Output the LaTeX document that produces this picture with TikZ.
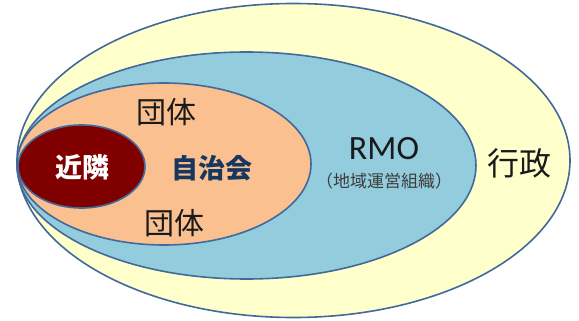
\documentclass[tikz,border=0pt]{standalone}
\usepackage{fontspec}
\setmainfont{Carlito}
\newfontfamily\cjk{Noto Sans CJK JP}
\definecolor{edge}{HTML}{41699B}
\definecolor{govfill}{HTML}{FFFFCC}
\definecolor{rmofill}{HTML}{93CDDD}
\definecolor{jichifill}{HTML}{FAC090}
\definecolor{kinfill}{HTML}{800000}
\definecolor{navy}{HTML}{17375E}
\definecolor{ink}{HTML}{1A1A1A}
\tikzset{
  zone/.style={draw=edge, line width=1.6pt},
  label/.style={inner sep=0pt, text=ink, font=\cjk},
}
\begin{document}
\begin{tikzpicture}[x=1pt,y=-1pt]
\useasboundingbox (0,0) rectangle (579,321);
\fill[white] (0,0) rectangle (579,321);
\draw[zone, fill=govfill] (293.5,160.5) ellipse [x radius=276.5pt, y radius=157pt];
\draw[zone, fill=rmofill] (246.5,165.5) ellipse [x radius=229.5pt, y radius=113.5pt];
\draw[zone, fill=jichifill] (164,164) ellipse [x radius=147pt, y radius=81pt];
\draw[zone, fill=kinfill] (81.5,166.5) ellipse [x radius=63.5pt, y radius=41.5pt];
\node[label, text=white, font=\cjk\bfseries\fontsize{27}{27}\selectfont] (kin) at (82,167) {近隣};
\node[label, text=navy, font=\cjk\bfseries\fontsize{27}{27}\selectfont] (jichi) at (212,168) {自治会};
\node[label, font=\cjk\fontsize{30}{30}\selectfont] (dan1) at (166,112) {団体};
\node[label, font=\cjk\fontsize{30}{30}\selectfont] (dan2) at (174,223) {団体};
\node[label, anchor=base, font=\fontsize{34}{34}\selectfont] (rmo) at (384,160) {RMO};
\node[label, text=ink!85, font=\cjk\fontsize{17}{17}\selectfont] (rmosub) at (384,181) {（地域運営組織）};
\node[label, font=\cjk\fontsize{32}{32}\selectfont] (gyo) at (519,163) {行政};
\end{tikzpicture}
\end{document}
